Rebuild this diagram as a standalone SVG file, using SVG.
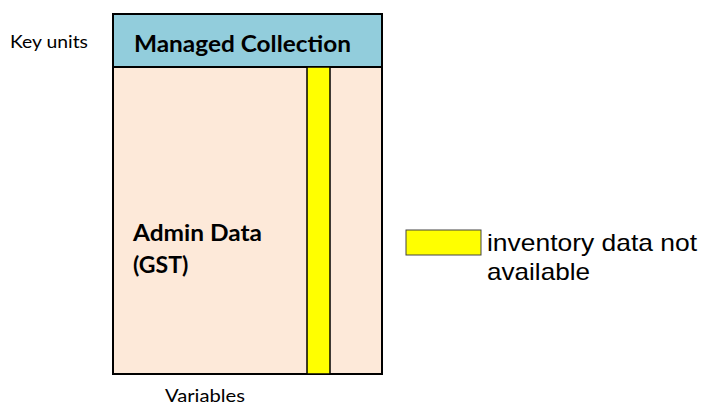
<svg xmlns="http://www.w3.org/2000/svg" width="701" height="407" viewBox="0 0 701 407">
  <style>
    .frame { stroke: #000; stroke-width: 2; }
    .lbl { font-family: Lato, "Open Sans", "Liberation Sans", sans-serif; fill: #000; }
    .bold { font-weight: bold; font-size: 23px; }
    .legend { font-family: "Liberation Sans", Arial, sans-serif; font-size: 24px; fill: #000; }
  </style>
  <rect width="701" height="407" fill="#fff"/>

  <g id="axis-labels">
    <text class="lbl" x="10" y="48" font-size="17" textLength="78" lengthAdjust="spacingAndGlyphs">Key units</text>
    <text class="lbl" x="165" y="402" font-size="17" textLength="80" lengthAdjust="spacingAndGlyphs">Variables</text>
  </g>

  <g id="admin-data">
    <rect class="frame" x="113" y="67" width="269" height="307" fill="#FDE9D9"/>
    <text class="lbl bold" x="133" y="241" textLength="129" lengthAdjust="spacingAndGlyphs">Admin Data</text>
    <text class="lbl bold" x="133" y="273">(GST)</text>
  </g>

  <g id="managed-collection">
    <rect class="frame" x="113" y="14" width="269" height="53" fill="#92CDDC"/>
    <text class="lbl bold" x="134" y="52" textLength="217" lengthAdjust="spacingAndGlyphs">Managed Collection</text>
  </g>

  <g id="inventory-gap">
    <rect x="307" y="67" width="23" height="307" fill="#FFFF00" stroke="#000" stroke-width="1.5"/>
  </g>

  <g id="legend">
    <rect x="406" y="230" width="75" height="25" fill="#FFFF00" stroke="#444" stroke-width="1"/>
    <text class="legend" x="487" y="251" textLength="210" lengthAdjust="spacingAndGlyphs">inventory data not</text>
    <text class="legend" x="487" y="280" textLength="103" lengthAdjust="spacingAndGlyphs">available</text>
  </g>
</svg>
